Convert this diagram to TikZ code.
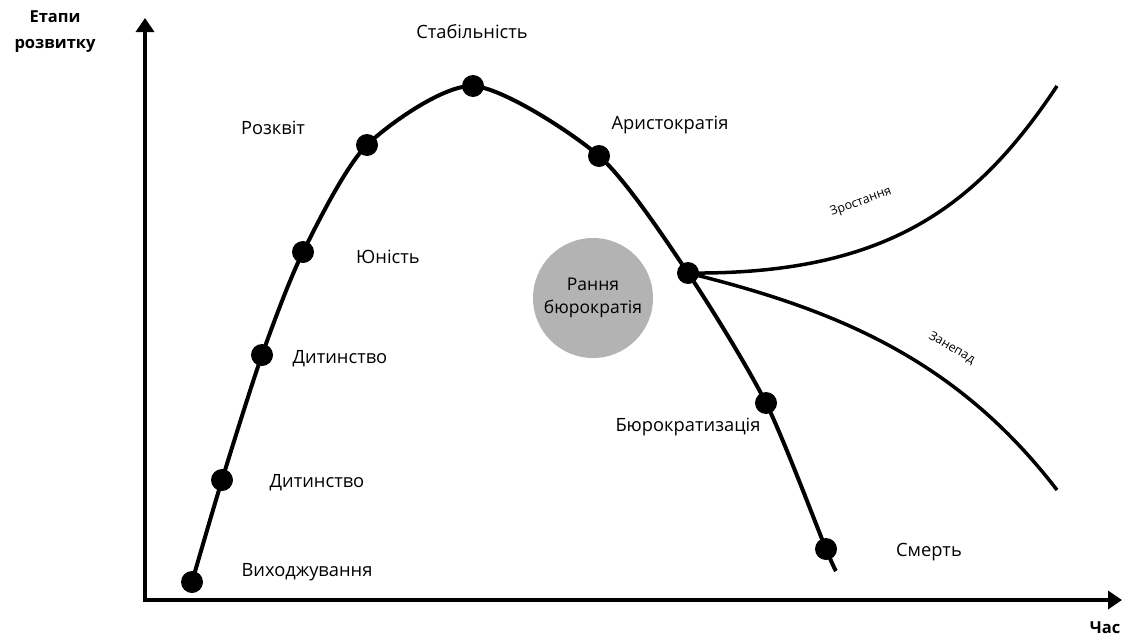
\documentclass[tikz,border=0pt]{standalone}
\usepackage{fontspec}
\setmainfont{Open Sans}
\usetikzlibrary{arrows.meta}
\definecolor{GrayCircle}{HTML}{B3B3B3}
\tikzset{
  punkt/.style  = {circle, fill=black, minimum size=22pt, inner sep=0pt},
  etap/.style   = {font=\fontsize{18.3}{21}\selectfont, inner sep=0pt},
  gilka/.style  = {font=\fontsize{12.5}{15}\selectfont, inner sep=0pt},
  vis/.style    = {font=\fontsize{16.5}{26}\selectfont\bfseries, align=center, inner sep=0pt},
  krug/.style   = {circle, fill=GrayCircle, minimum size=120pt, inner sep=0pt,
                   align=center, font=\fontsize{17.5}{23}\selectfont},
  os/.style     = {{Triangle[length=14pt,width=18pt]}-{Triangle[length=14pt,width=18pt]}, line width=4pt},
  kryva/.style  = {line width=4pt},
  gilkaline/.style = {line width=3.5pt},
}
\begin{document}
\begin{tikzpicture}[x=1pt, y=-1pt]
  \useasboundingbox (0,0) rectangle (1129,637);
  % axes
  \coordinate (O) at (145,600);
  \coordinate (ytop) at (145,18);
  \coordinate (xend) at (1122,600);
  \draw[os] (ytop) -- (O) -- (xend);
  \node[vis] (yname) at (55,32) {Етапи\\розвитку};
  \node[vis] (xname) at (1105,628) {Час};
  % life cycle points
  \node[punkt] (d1) at (192,582) {};
  \node[punkt] (d2) at (222,480) {};
  \node[punkt] (d3) at (262,355) {};
  \node[punkt] (d4) at (303,252) {};
  \node[punkt] (d5) at (367,145) {};
  \node[punkt] (d6) at (473,86) {};
  \node[punkt] (d7) at (599,156) {};
  \node[punkt] (d8) at (688,273) {};
  \node[punkt] (d9) at (766,403) {};
  \node[punkt] (d10) at (826,549) {};
  \coordinate (kinec) at (836,571);
  \coordinate (rist) at (1057,86);
  \coordinate (spad) at (1057,490);
  \draw[kryva] plot[smooth, tension=0.45] coordinates {(d1.center) (d2.center) (d3.center) (d4.center) (d5.center) (d6.center) (d7.center) (d8.center) (d9.center) (d10.center) (kinec)};
  % branches
  \draw[gilkaline] (d8.center) .. controls (888,275) and (977,206) .. (rist);
  \draw[gilkaline] (d8.center) .. controls (838,310) and (957,360) .. (spad);
  % labels
  \node[etap] (l1) at (307,572) {Виходжування};
  \node[etap] (l2) at (317,483) {Дитинство};
  \node[etap] (l3) at (340,359) {Дитинство};
  \node[etap] (l4) at (388,257) {Юність};
  \node[etap] (l5) at (273,128) {Розквіт};
  \node[etap] (l6) at (472,32) {Стабільність};
  \node[etap] (l7) at (670,125) {Аристократія};
  \node[etap] (l8) at (688,427) {Бюрократизація};
  \node[etap] (l9) at (929,552) {Смерть};
  \node[krug] (rb) at (593,298) {Рання\\бюрократія};
  \node[gilka, rotate=20] (g1) at (861,202) {Зростання};
  \node[gilka, rotate=-30] (g2) at (952,348) {Занепад};
\end{tikzpicture}
\end{document}
